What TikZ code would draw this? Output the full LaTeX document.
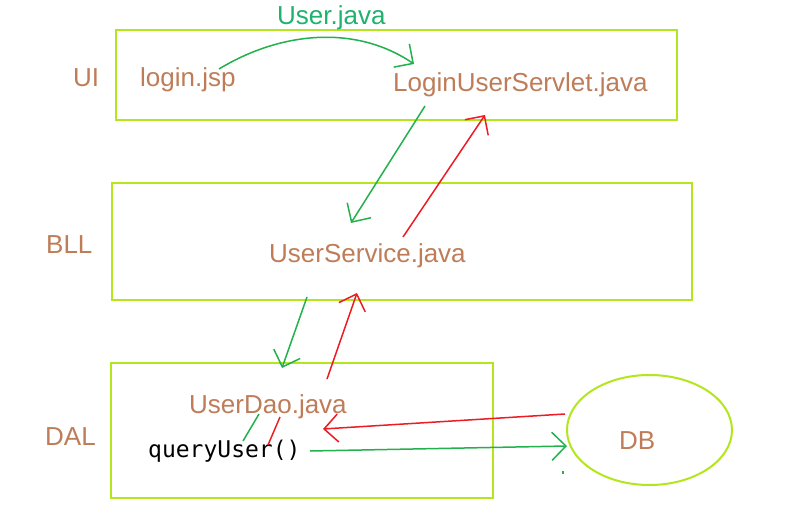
\documentclass[tikz,border=0pt]{standalone}
\usepackage{fontspec}
\setmainfont{Liberation Sans}
\newfontfamily\qmono{DejaVu Sans Mono}
\usetikzlibrary{arrows.meta,shapes.geometric}
\definecolor{boxlime}{RGB}{181,230,29}
\definecolor{txtbrown}{RGB}{190,125,88}
\definecolor{pgreen}{RGB}{34,177,76}
\definecolor{tgreen}{RGB}{30,178,110}
\definecolor{pred}{RGB}{237,28,36}
\begin{document}
\begin{tikzpicture}[x=1pt,y=-1pt,
  lbl/.style={text=txtbrown, font=\fontsize{26}{30}\selectfont, inner sep=0pt, anchor=base west},
  box/.style={draw=boxlime, line width=2pt, inner sep=0pt},
  barb/.style={-{Straight Barb[length=14pt,width=28pt,line width=1.5pt]}},
  garrow/.style={draw=pgreen, line width=1.5pt, barb},
  rarrow/.style={draw=pred, line width=1.5pt, barb},
  gline/.style={draw=pgreen, line width=1.5pt},
  rline/.style={draw=pred, line width=1.5pt}]
\fill[white] (0,0) rectangle (792,521);
\useasboundingbox (0,0) rectangle (792,521);
% layer boxes
\node[box, minimum width=561pt, minimum height=90pt] (ui) at (396.5,75) {};
\node[box, minimum width=580pt, minimum height=117pt] (bll) at (402,241.5) {};
\node[box, minimum width=382pt, minimum height=135pt] (dal) at (302,430.5) {};
\node[draw=boxlime, line width=2pt, ellipse, minimum width=165pt, minimum height=110pt, inner sep=0pt] (db) at (649.5,430) {};
% labels
\node[lbl] (uil) at (73,87) {UI};
\node[lbl] (bll-l) at (46,254) {BLL};
\node[lbl] (dal-l) at (45,445) {DAL};
\node[lbl] (login) at (140,87) {login.jsp};
\node[lbl] (servlet) at (393,92) {LoginUserServlet.java};
\node[lbl, text=tgreen] (userjava) at (277,25) {User.java};
\node[lbl] (service) at (269,262) {UserService.java};
\node[lbl] (dao) at (189,413) {UserDao.java};
\node[anchor=base west, inner sep=0pt, font=\qmono\fontsize{23}{27}\selectfont] (query) at (148,457) {queryUser()};
\node[lbl] (dbl) at (619,449) {DB};
% connector end points
\coordinate (a1s) at (219,69);  \coordinate (a1e) at (414,64);
\coordinate (a2s) at (425,106); \coordinate (a2e) at (351,223);
\coordinate (a3s) at (403,237); \coordinate (a3e) at (485,115);
\coordinate (a4s) at (307,297); \coordinate (a4e) at (282,368);
\coordinate (a5s) at (327,379); \coordinate (a5e) at (357,293);
\coordinate (l1s) at (259,414); \coordinate (l1e) at (243,441);
\coordinate (l2s) at (280,417); \coordinate (l2e) at (268,445);
\coordinate (a6s) at (565,414); \coordinate (a6e) at (323,429);
\coordinate (a7s) at (310,451); \coordinate (a7e) at (567,446);
\coordinate (dot) at (563,471);
% connectors
\draw[garrow] (a1s) .. controls (280,32) and (355,24) .. (a1e);
\draw[garrow] (a2s) -- (a2e);
\draw[rarrow] (a3s) -- (a3e);
\draw[garrow] (a4s) -- (a4e);
\draw[rarrow] (a5s) -- (a5e);
\draw[gline] (l1s) -- (l1e);
\draw[rline] (l2s) -- (l2e);
\draw[rarrow] (a6s) -- (a6e);
\draw[garrow] (a7s) -- (a7e);
\draw[gline] (dot) -- ++(0,3);
\end{tikzpicture}
\end{document}
